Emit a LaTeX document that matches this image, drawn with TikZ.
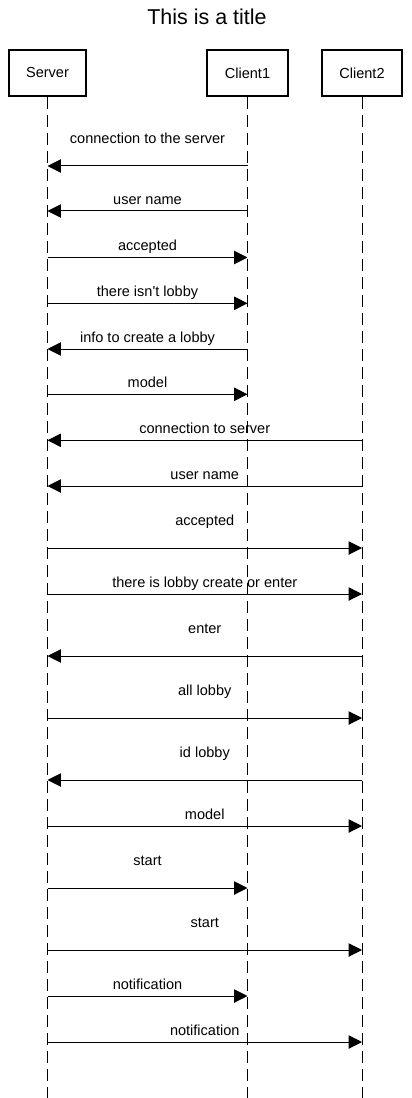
\documentclass[tikz,border=0pt]{standalone}
\usepackage{fontspec}
\setmainfont{Liberation Sans}
\usetikzlibrary{arrows.meta}
\font\lblfont="Liberation Sans" at 10.9pt
\font\titlefont="Liberation Sans" at 16.1pt
\begin{document}
\begin{tikzpicture}[x=0.75pt,y=-0.75pt,
  actor/.style={draw,line width=1.5pt,minimum height=34.5pt,inner sep=0pt,font=\lblfont},
  lifeline/.style={line width=0.75pt,dash pattern=on 9pt off 4.5pt},
  msg/.style={line width=0.75pt,-{Triangle[length=10pt,width=10pt]}},
  lbl/.style={anchor=base,inner sep=0pt,font=\lblfont},
  near/.style={yshift=4.9pt},
  far/.style={yshift=16.9pt}]
\useasboundingbox (0,0) rectangle (411,1098);
\node[anchor=base,inner sep=0pt,font=\titlefont] (title) at (207,25) {This is a title};
\node[actor,minimum width=57.75pt] (srv) at (47.5,73) {Server};
\node[actor,minimum width=60.75pt] (c1) at (247.5,73) {Client1};
\node[actor,minimum width=60pt] (c2) at (362,73) {Client2};
\coordinate (bot) at (0,1098);
\foreach \n in {srv,c1,c2}{
  \draw[lifeline] (\n.south) -- (\n.south |- bot);
}
\foreach \y/\a/\b/\p/\t in {
  166/c1/srv/far/connection to the server,
  211/c1/srv/near/user name,
  257.5/srv/c1/near/accepted,
  303.3/srv/c1/near/there isn't lobby,
  349/c1/srv/near/info to create a lobby,
  394.3/srv/c1/near/model,
  440.3/c2/srv/near/connection to server,
  486/c2/srv/near/user name,
  548/srv/c2/far/accepted,
  594/srv/c2/near/there is lobby create or enter,
  656/c2/srv/far/enter,
  718/srv/c2/far/all lobby,
  780/c2/srv/far/id lobby,
  826/srv/c2/near/model,
  888/srv/c1/far/start,
  950/srv/c2/far/start,
  996/srv/c1/near/notification,
  1042/srv/c2/near/notification}{
  \coordinate (m) at (0,\y);
  \draw[msg] (\a |- m) -- node[lbl,\p] {\t} (\b |- m);
}
\end{tikzpicture}
\end{document}
